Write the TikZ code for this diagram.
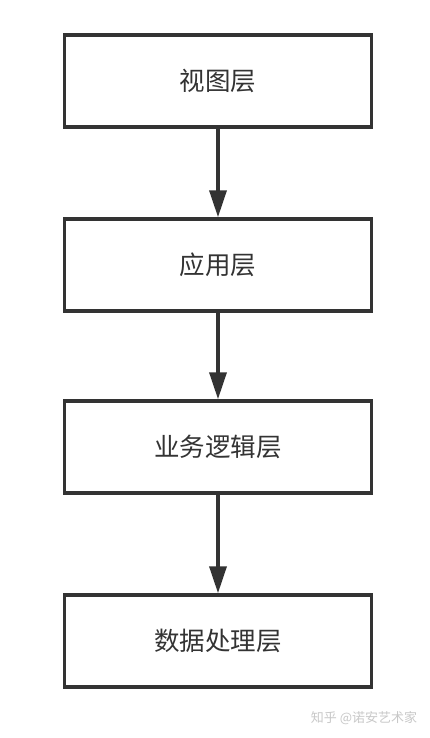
\documentclass[tikz,border=0pt]{standalone}
\usepackage{fontspec}
\setmainfont{Noto Sans CJK SC}
\usetikzlibrary{arrows.meta,positioning}
\definecolor{ink}{HTML}{333333}
\definecolor{mark}{HTML}{C8C8C8}

\begin{document}
\begin{tikzpicture}[
  x=1pt, y=-1pt,
  text=ink,
  layer/.style={draw=ink, line width=3.5pt, fill=white,
    minimum width=307pt, minimum height=92pt, font=\fontsize{25.5}{29}\selectfont},
  arrow/.style={-{Triangle[length=27pt,width=17pt]}, draw=ink, line width=3.5pt}
]
  \useasboundingbox[fill=white] (0,0) rectangle (430,738);

  \node[layer] (view) at (218,81) {视图层};
  \node[layer] (app) at (218,265) {应用层};
  \node[layer] (logic) at (218,447) {业务逻辑层};
  \node[layer] (data) at (218,641) {数据处理层};

  \draw[arrow] (view.south) -- (app.north);
  \draw[arrow] (app.south) -- (logic.north);
  \draw[arrow] (logic.south) -- (data.north);

  \node[text=mark, font=\fontsize{13}{15}\selectfont] (watermark) at (364,718)
    {知乎 @诺安艺术家};
\end{tikzpicture}
\end{document}
